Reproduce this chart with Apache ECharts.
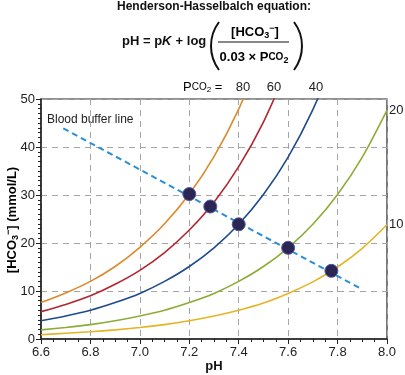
<!DOCTYPE html>
<html>
<head>
<meta charset="utf-8">
<script src="https://cdn.jsdelivr.net/npm/echarts@6/dist/echarts.min.js"></script>
<style>
  html, body { margin: 0; padding: 0; background: #fff; }
  #chart { width: 405px; height: 375px; }
</style>
</head>
<body>
<div id="chart"></div>
<script>
// pH steps used to read the isobars
const phValues = [6.6, 6.7, 6.8, 6.9, 7.0, 7.1, 7.2, 7.3, 7.4, 7.5, 7.6, 7.7, 7.8, 7.9, 8.0];

const pco2_80 = [7.6, 9.6, 12.0, 15.1, 19.1, 24.0, 30.2, 38.0, 47.9, 60.3];
const pco2_60 = [5.7, 7.2, 9.0, 11.4, 14.3, 18.0, 22.7, 28.5, 35.9, 45.2, 56.9];
const pco2_40 = [3.8, 4.8, 6.0, 7.6, 9.5, 12.0, 15.1, 19.0, 23.9, 30.1, 37.9, 47.8, 60.1];
const pco2_20 = [1.9, 2.4, 3.0, 3.8, 4.8, 6.0, 7.6, 9.5, 12.0, 15.1, 19.0, 23.9, 30.1, 37.9, 47.7];
const pco2_10 = [0.9, 1.2, 1.5, 1.9, 2.4, 3.0, 3.8, 4.8, 6.0, 7.5, 9.5, 11.9, 15.0, 18.9, 23.8];

// blood buffer line end points [pH, HCO3]
const bufferLine = [[6.69, 43.9], [7.89, 10.6]];

// points where the buffer line crosses each isobar
const crossPH = [7.2, 7.285, 7.4, 7.6, 7.775];
const crossHCO3 = [30.2, 27.6, 23.9, 19.0, 14.2];

const xTicks = { min: 6.6, max: 8.0, step: 0.2 };
const yTicks = { min: 0, max: 50, step: 10 };

const font = 'Liberation Sans, Arial, sans-serif';
const chart = echarts.init(document.getElementById('chart'));

function curve(name, values, color, label) {
  const s = {
    name: name,
    type: 'line',
    data: values.map((v, i) => [phValues[i], v]),
    smooth: 0.3,
    showSymbol: false,
    clip: true,
    lineStyle: { color: color, width: 1.6 },
    z: 3
  };
  if (label) {
    s.endLabel = {
      show: true, formatter: label, color: '#222',
      fontFamily: font, fontSize: 13, distance: 2, offset: [0, 0]
    };
  }
  return s;
}

const subRich = {
  b: { fontFamily: font, fontSize: 13, fontWeight: 'bold', color: '#111' },
  sub: { fontFamily: font, fontSize: 9, fontWeight: 'bold', color: '#111', padding: [7, 0, 0, 0] },
  sup: { fontFamily: font, fontSize: 9, fontWeight: 'bold', color: '#111', padding: [0, 0, 6, 0] },
  sc: { fontFamily: font, fontSize: 10, fontWeight: 'bold', color: '#111' }
};

const plainRich = {
  n: { fontFamily: font, fontSize: 13, color: '#222' },
  sc: { fontFamily: font, fontSize: 10, color: '#222' },
  sub: { fontFamily: font, fontSize: 8, color: '#222', padding: [6, 0, 0, 0] }
};

const option = {
  animation: false,
  backgroundColor: '#fff',
  grid: {
    left: 41, right: 18, top: 99, bottom: 36,
    outerBoundsMode: 'none',
    containLabel: false,
    show: true, borderColor: '#222', borderWidth: 1.2
  },
  xAxis: {
    type: 'value',
    min: xTicks.min, max: xTicks.max, interval: xTicks.step,
    axisLine: { lineStyle: { color: '#222', width: 1.5 } },
    axisTick: { show: true, length: 5, lineStyle: { color: '#222' } },
    minorTick: { show: true, splitNumber: 4, length: 3, lineStyle: { color: '#222' } },
    axisLabel: {
      fontFamily: font, fontSize: 13, color: '#222', margin: 7,
      formatter: v => v.toFixed(1)
    },
    splitLine: { show: true, lineStyle: { color: '#a5a5a5', type: [6, 5], width: 1 } }
  },
  yAxis: {
    type: 'value',
    min: yTicks.min, max: yTicks.max, interval: yTicks.step,
    axisLine: { show: true, lineStyle: { color: '#222', width: 1.5 } },
    axisTick: { show: true, length: 5, lineStyle: { color: '#222' } },
    minorTick: { show: true, splitNumber: 10, length: 3, lineStyle: { color: '#222' } },
    axisLabel: { fontFamily: font, fontSize: 13, color: '#222', margin: 6 },
    splitLine: { show: true, lineStyle: { color: '#a5a5a5', type: [6, 5], width: 1 } }
  },
  series: [
    curve('80', pco2_80, '#dc8a2c'),
    curve('60', pco2_60, '#b2262f'),
    curve('40', pco2_40, '#1e4b8c'),
    curve('20', pco2_20, '#8dac36', '20'),
    curve('10', pco2_10, '#e4b423', '10'),
    {
      name: 'buffer',
      type: 'line',
      data: bufferLine,
      showSymbol: false,
      lineStyle: { color: '#2b8fd3', width: 2, type: [6, 4] },
      z: 4
    },
    {
      name: 'cross',
      type: 'scatter',
      data: crossPH.map((p, i) => [p, crossHCO3[i]]),
      symbol: 'circle',
      symbolSize: 13,
      itemStyle: { color: '#2c2654', borderColor: '#4e5aa0', borderWidth: 1, opacity: 1 },
      z: 5
    }
  ],
  graphic: [
    {
      type: 'text', x: 214, y: 1,
      style: { text: 'Henderson-Hasselbalch equation:', font: 'bold 12px ' + font, fill: '#111', align: 'center' }
    },
    {
      type: 'text', x: 122, y: 35,
      style: { text: 'pH = p', font: 'bold 13px ' + font, fill: '#111' }
    },
    {
      type: 'text', x: 162, y: 35,
      style: { text: 'K', font: 'italic bold 13px ' + font, fill: '#111' }
    },
    {
      type: 'text', x: 172, y: 35,
      style: { text: ' + log', font: 'bold 13px ' + font, fill: '#111' }
    },
    {
      type: 'arc',
      shape: { cx: 251, cy: 46, r: 40, startAngle: Math.PI - 0.6435, endAngle: Math.PI + 0.6435, clockwise: true },
      style: { stroke: '#111', fill: null, lineWidth: 2 }
    },
    {
      type: 'arc',
      shape: { cx: 262, cy: 46, r: 40, startAngle: -0.6435, endAngle: 0.6435, clockwise: true },
      style: { stroke: '#111', fill: null, lineWidth: 2 }
    },
    {
      type: 'text', x: 255, y: 24,
      style: { text: '{b|[HCO}{sub|3}{sup|−}{b|]}', rich: subRich, align: 'center' }
    },
    {
      type: 'line',
      shape: { x1: 218, y1: 42, x2: 289, y2: 42 },
      style: { stroke: '#111', lineWidth: 1.2 }
    },
    {
      type: 'text', x: 254, y: 49,
      style: { text: '{b|0.03 × P}{sc|CO}{sub|2}', rich: subRich, align: 'center' }
    },
    {
      type: 'text', x: 183, y: 80,
      style: { text: '{n|P}{sc|CO}{sub|2}{n| =}', rich: plainRich }
    },
    {
      type: 'text', x: 243, y: 81,
      style: { text: '80', font: '13px ' + font, fill: '#222', align: 'center' }
    },
    {
      type: 'text', x: 274, y: 81,
      style: { text: '60', font: '13px ' + font, fill: '#222', align: 'center' }
    },
    {
      type: 'text', x: 316, y: 81,
      style: { text: '40', font: '13px ' + font, fill: '#222', align: 'center' }
    },
    {
      type: 'text', x: 47, y: 114,
      style: { text: 'Blood buffer line', font: '12px ' + font, fill: '#222' }
    },
    {
      type: 'text', x: 12, y: 220, rotation: Math.PI / 2,
      style: {
        text: '{b|[HCO}{sub|3}{sup|−}{b|] (mmol/L)}', rich: subRich,
        align: 'center', verticalAlign: 'middle'
      }
    },
    {
      type: 'text', x: 214, y: 360,
      style: { text: 'pH', font: 'bold 13px ' + font, fill: '#111', align: 'center' }
    }
  ]
};

chart.setOption(option);
</script>
</body>
</html>
